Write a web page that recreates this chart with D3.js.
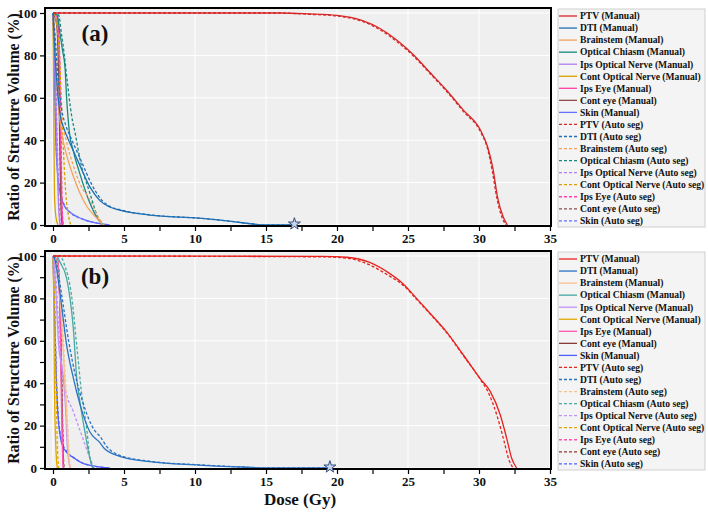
<!DOCTYPE html>
<html>
<head>
<meta charset="utf-8">
<script src="https://cdn.jsdelivr.net/npm/d3@7"></script>
<style>
  body { margin: 0; background: #fff; }
  svg text { font-family: "Liberation Serif", "Times New Roman", serif; font-weight: bold; fill: #111; }
</style>
</head>
<body>
<div id="chart"></div>
<script>
// DVH comparison, manual vs auto segmentation — two stacked panels (a) and (b).

const STRUCTURES = ['PTV', 'DTI', 'Brainstem', 'Optical Chiasm', 'Ips Optical Nerve',
                    'Cont Optical Nerve', 'Ips Eye', 'Cont eye', 'Skin'];
const X_TICKS = [0, 5, 10, 15, 20, 25, 30, 35];
const Y_TICKS = [0, 20, 40, 60, 80, 100];

const COLORS_A = ['#d62728','#1f6fb4','#f5a25d','#17877f','#b07cf0','#d9a000','#ff3fa8','#8c4e4e','#6470ff'];
const COLORS_B = ['#e8221e','#2a72c0','#f7c08d','#4aa8a2','#c090f5','#e0a800','#ff55b0','#8a3a3a','#5060ff'];

// panel (a): [dose Gy, volume %]
const ptvManA    = [[0,100],[16,100],[18,99.6],[20,98.9],[21.8,96.4],[23,92.8],[24.2,87.3],[25.4,80.2],[26.5,72.3],[27.7,63.7],[28.9,54.2],[30.1,44.8],[30.6,37],[31,26],[31.3,13.3],[31.7,3.9],[32,0]];
const ptvAutoA   = [[0,100],[16,100],[18,99.4],[20,98.6],[21.8,96],[23,92.2],[24.2,86.6],[25.4,79.6],[26.5,71.8],[27.7,63.2],[28.9,53.6],[30.1,44],[30.6,36],[30.95,25],[31.25,13],[31.6,4],[31.9,0]];
const dtiManA    = [[0,100],[0.1,85],[0.3,65],[0.5,52],[0.8,45],[1.1,40],[1.5,34],[1.9,28],[2.6,18],[3.3,11.5],[4,8.5],[4.7,7],[6.8,4.7],[10.3,3.2],[12.7,1.6],[14.3,0.3],[15,0],[17,0]];
const dtiAutoA   = [[0,100],[0.15,88],[0.35,70],[0.6,55],[0.9,47],[1.2,42],[1.6,36],[2,30],[2.7,19.5],[3.4,12],[4,8.8],[4.7,7.2],[6.8,4.8],[10.3,3.2],[12.7,1.6],[14.3,0.3],[15,0],[17,0]];
const brainManA  = [[0,100],[0.1,90],[0.25,70],[0.4,55],[0.6,44],[1,32],[1.43,23],[1.9,15],[2.4,8.6],[3.2,2.4],[3.5,0]];
const brainAutoA = [[0,100],[0.15,90],[0.3,72],[0.5,56],[0.7,47],[1,38],[1.43,28],[2,18],[2.5,13],[3.3,2.5],[3.6,0]];
const chiasmManA = [[0,100],[0.3,99],[0.5,90],[0.68,82],[0.85,74],[0.96,60],[1.15,44],[1.43,35],[1.9,24],[2.5,12],[3.2,2.4],[3.5,0]];
const chiasmAutoA= [[0,100],[0.4,99],[0.6,90],[0.8,80],[1,68],[1.3,52],[1.6,42],[1.9,31],[2.6,15],[3.2,3],[3.5,0]];
const ipsONManA  = [[0,100],[0.1,90],[0.2,60],[0.3,30],[0.4,8],[0.5,0]];
const ipsONAutoA = [[0,100],[0.15,85],[0.25,55],[0.35,25],[0.45,6],[0.55,0]];
const contONManA = [[0,100],[0.05,60],[0.1,15],[0.2,4],[0.35,0]];
const contONAutoA= [[0,100],[0.2,97],[0.45,80],[0.7,40],[0.9,15],[1.1,4],[1.25,0]];
const ipsEyeManA = [[0,100],[0.3,98],[0.45,80],[0.55,40],[0.62,10],[0.7,0]];
const ipsEyeAutoA= [[0,100],[0.3,98],[0.47,80],[0.57,40],[0.64,10],[0.72,0]];
const contEyeManA= [[0,100],[0.25,95],[0.4,70],[0.5,30],[0.58,5],[0.65,0]];
const contEyeAutoA=[[0,100],[0.27,95],[0.42,70],[0.52,30],[0.6,5],[0.67,0]];
const skinManA   = [[0,100],[0.1,70],[0.2,40],[0.35,22],[0.5,15],[0.8,9],[1.2,6],[2,3],[3,1],[4,0]];
const skinAutoA  = [[0,100],[0.1,72],[0.2,42],[0.35,24],[0.5,16],[0.8,9.5],[1.2,6],[2,3],[3,1],[4,0]];

// panel (b)
const ptvManB    = [[0,100],[19,99.8],[20.7,99.4],[22.3,97],[23.7,91.8],[24.7,86.6],[25.6,80],[26.55,73],[27.7,64.3],[28.9,53.3],[30.07,42.3],[30.8,36],[31.5,25],[31.95,14],[32.3,4.6],[32.65,0]];
const ptvAutoB   = [[0,100],[19,99.6],[20.7,99],[22.3,95.8],[23.7,90.5],[24.7,86],[25.6,79.6],[26.55,72.7],[27.7,64],[28.9,53],[30.07,42],[30.7,35],[31.3,24],[31.75,13],[32.1,4],[32.4,0]];
const dtiManB    = [[0,100],[0.1,99],[0.5,82],[0.96,58],[1.43,42.5],[1.9,30],[2.6,17],[3.3,12],[3.6,9.3],[4.7,5.5],[6.8,3],[10.3,1.4],[13.9,0.3],[15,0],[19.5,0]];
const dtiAutoB   = [[0,100],[0.15,99],[0.6,82],[1.1,60],[1.6,43],[2.1,31],[2.9,18],[3.3,15],[3.8,10],[4.7,6],[6.8,3.2],[10.3,1.5],[13.9,0.3],[15,0],[19.5,0]];
const brainManB  = [[0,100],[0.2,98],[0.5,80],[0.8,45],[0.96,25],[1.1,5],[1.2,0]];
const brainAutoB = [[0,100],[0.25,98],[0.55,80],[0.85,45],[1,25],[1.15,5],[1.25,0]];
const chiasmManB = [[0,100],[0.26,100],[0.5,97],[0.96,89.5],[1.2,80],[1.43,66],[1.67,42.5],[1.9,31],[2.25,17],[2.6,4.6],[2.8,0]];
const chiasmAutoB= [[0,100],[0.5,100],[0.8,96],[1.3,81.6],[1.67,58],[2,36],[2.4,17],[2.6,4.6],[2.85,0]];
const ipsONManB  = [[0,100],[0.1,95],[0.4,58],[0.73,42.5],[0.9,26.6],[1,11],[1.2,0]];
const ipsONAutoB = [[0,100],[0.15,95],[0.45,60],[0.85,38],[1.43,26.6],[2.1,14],[2.6,4.6],[2.9,0]];
const contONManB = [[0,100],[0.05,80],[0.1,40],[0.2,10],[0.3,0]];
const contONAutoB= [[0,100],[0.1,85],[0.2,45],[0.3,12],[0.4,0]];
const ipsEyeManB = [[0,100],[0.3,98],[0.5,70],[0.6,30],[0.68,5],[0.72,0]];
const ipsEyeAutoB= [[0,100],[0.32,98],[0.52,70],[0.62,30],[0.7,5],[0.74,0]];
const contEyeManB= [[0,100],[0.3,98],[0.5,75],[0.62,35],[0.7,8],[0.75,0]];
const contEyeAutoB=[[0,100],[0.32,98],[0.52,75],[0.64,35],[0.72,8],[0.77,0]];
const skinManB   = [[0,100],[0.1,75],[0.3,30],[0.6,12],[1,7],[1.43,5],[2,2.5],[3,0.8],[4,0]];
const skinAutoB  = [[0,100],[0.1,77],[0.3,32],[0.6,13],[1,7.5],[1.43,5],[2,2.6],[3,0.8],[4,0]];

const MAX_DOSE_A = 17;    // star marker on DTI tail
const MAX_DOSE_B = 19.5;

const PANELS = [
  { label: '(a)', top: 8,   bottom: 226, colors: COLORS_A, star: MAX_DOSE_A, minor: false,
    manual: [ptvManA, dtiManA, brainManA, chiasmManA, ipsONManA, contONManA, ipsEyeManA, contEyeManA, skinManA],
    auto:   [ptvAutoA, dtiAutoA, brainAutoA, chiasmAutoA, ipsONAutoA, contONAutoA, ipsEyeAutoA, contEyeAutoA, skinAutoA] },
  { label: '(b)', top: 251, bottom: 469, colors: COLORS_B, star: MAX_DOSE_B, minor: true,
    manual: [ptvManB, dtiManB, brainManB, chiasmManB, ipsONManB, contONManB, ipsEyeManB, contEyeManB, skinManB],
    auto:   [ptvAutoB, dtiAutoB, brainAutoB, chiasmAutoB, ipsONAutoB, contONAutoB, ipsEyeAutoB, contEyeAutoB, skinAutoB] }
];

const W = 708, H = 515;
const L = 45, R = 551;
const x = d3.scaleLinear().domain([0, 35]).range([53, 550]);

const svg = d3.select('#chart').append('svg').attr('width', W).attr('height', H);

PANELS.forEach((p, pi) => {
  const y = d3.scaleLinear().domain([0, 100]).range([p.bottom - 1, p.bottom - 213]);
  const g = svg.append('g');

  g.append('rect').attr('x', L).attr('y', p.top).attr('width', R - L).attr('height', p.bottom - p.top)
    .attr('fill', '#efefef');

  // grid
  g.append('g').selectAll('line').data(X_TICKS).join('line')
    .attr('x1', d => x(d)).attr('x2', d => x(d)).attr('y1', p.top).attr('y2', p.bottom)
    .attr('stroke', '#fff').attr('stroke-width', 1);
  g.append('g').selectAll('line').data(Y_TICKS).join('line')
    .attr('x1', L).attr('x2', R).attr('y1', d => y(d)).attr('y2', d => y(d))
    .attr('stroke', '#fff').attr('stroke-width', 1);

  const clipId = 'clip' + pi;
  svg.append('clipPath').attr('id', clipId).append('rect')
    .attr('x', L).attr('y', p.top).attr('width', R - L).attr('height', p.bottom - p.top);

  const line = d3.line().x(d => x(d[0])).y(d => y(d[1])).curve(d3.curveMonotoneX);
  const curves = g.append('g').attr('clip-path', `url(#${clipId})`);

  // draw lower-dose structures first, PTV last so it stays on top
  for (let i = STRUCTURES.length - 1; i >= 0; i--) {
    curves.append('path').attr('d', line(p.manual[i])).attr('fill', 'none')
      .attr('stroke', p.colors[i]).attr('stroke-width', 1.3);
    curves.append('path').attr('d', line(p.auto[i])).attr('fill', 'none')
      .attr('stroke', p.colors[i]).attr('stroke-width', 1.3).attr('stroke-dasharray', '3,2');
  }

  // frame
  g.append('rect').attr('x', L).attr('y', p.top).attr('width', R - L).attr('height', p.bottom - p.top)
    .attr('fill', 'none').attr('stroke', '#000').attr('stroke-width', 2);

  g.append('path').attr('d', d3.symbol(d3.symbolStar).size(45)())
    .attr('transform', `translate(${x(p.star)},${y(0) - 1})`)
    .attr('fill', '#c9d5ee').attr('stroke', '#34507e').attr('stroke-width', 1);

  // axes
  const xAxis = d3.axisBottom(x).tickValues(d3.range(0, 35.01, 2.5)).tickSize(4).tickPadding(3)
    .tickFormat(d => d % 5 === 0 ? d : '');
  const xg = g.append('g').attr('transform', `translate(0,${p.bottom + 1})`).call(xAxis);
  xg.select('.domain').remove();
  xg.selectAll('line').attr('stroke', '#000').attr('stroke-width', 1.2);
  xg.selectAll('text').style('font-size', '13px').attr('fill', '#111')
    .style('font-family', '"Liberation Serif", serif').style('font-weight', 'bold');

  const yAxis = d3.axisLeft(y).tickValues(p.minor ? d3.range(0, 100.1, 10) : Y_TICKS)
    .tickSize(4).tickPadding(3).tickFormat(d => d % 20 === 0 ? d : '');
  const yg = g.append('g').attr('transform', `translate(${L - 1},0)`).call(yAxis);
  yg.select('.domain').remove();
  yg.selectAll('line').attr('stroke', '#000').attr('stroke-width', 1.2);
  yg.selectAll('text').style('font-size', '13px').attr('fill', '#111')
    .style('font-family', '"Liberation Serif", serif').style('font-weight', 'bold');

  // panel tag
  g.append('text').attr('x', 95).attr('y', p.top + 33).attr('text-anchor', 'middle')
    .style('font-size', '23px').text(p.label);

  // y title
  g.append('text').attr('transform', `translate(19,${(p.top + p.bottom) / 2}) rotate(-90)`)
    .attr('text-anchor', 'middle').style('font-size', '15.8px').text('Ratio of Structure Volume (%)');

  // legend
  const lg = g.append('g');
  lg.append('rect').attr('x', 558).attr('y', p.top + 1).attr('width', 147).attr('height', 218)
    .attr('fill', '#f4f4f4').attr('stroke', '#cfcfcf');
  const entries = [];
  STRUCTURES.forEach((s, i) => entries.push({ name: `${s} (Manual)`, color: p.colors[i], dash: null }));
  STRUCTURES.forEach((s, i) => entries.push({ name: `${s} (Auto seg)`, color: p.colors[i], dash: '3,2' }));
  const rows = lg.selectAll('g').data(entries).join('g')
    .attr('transform', (d, i) => `translate(0,${p.top + 8 + i * 12.05})`);
  rows.append('line').attr('x1', 559).attr('x2', 577).attr('y1', 0).attr('y2', 0)
    .attr('stroke', d => d.color).attr('stroke-width', 1.3).attr('stroke-dasharray', d => d.dash);
  rows.append('text').attr('x', 580).attr('y', 3.3).style('font-size', '9.6px').text(d => d.name);
});

svg.append('text').attr('x', 300).attr('y', 505).attr('text-anchor', 'middle')
  .style('font-size', '17px').text('Dose (Gy)');
</script>
</body>
</html>
